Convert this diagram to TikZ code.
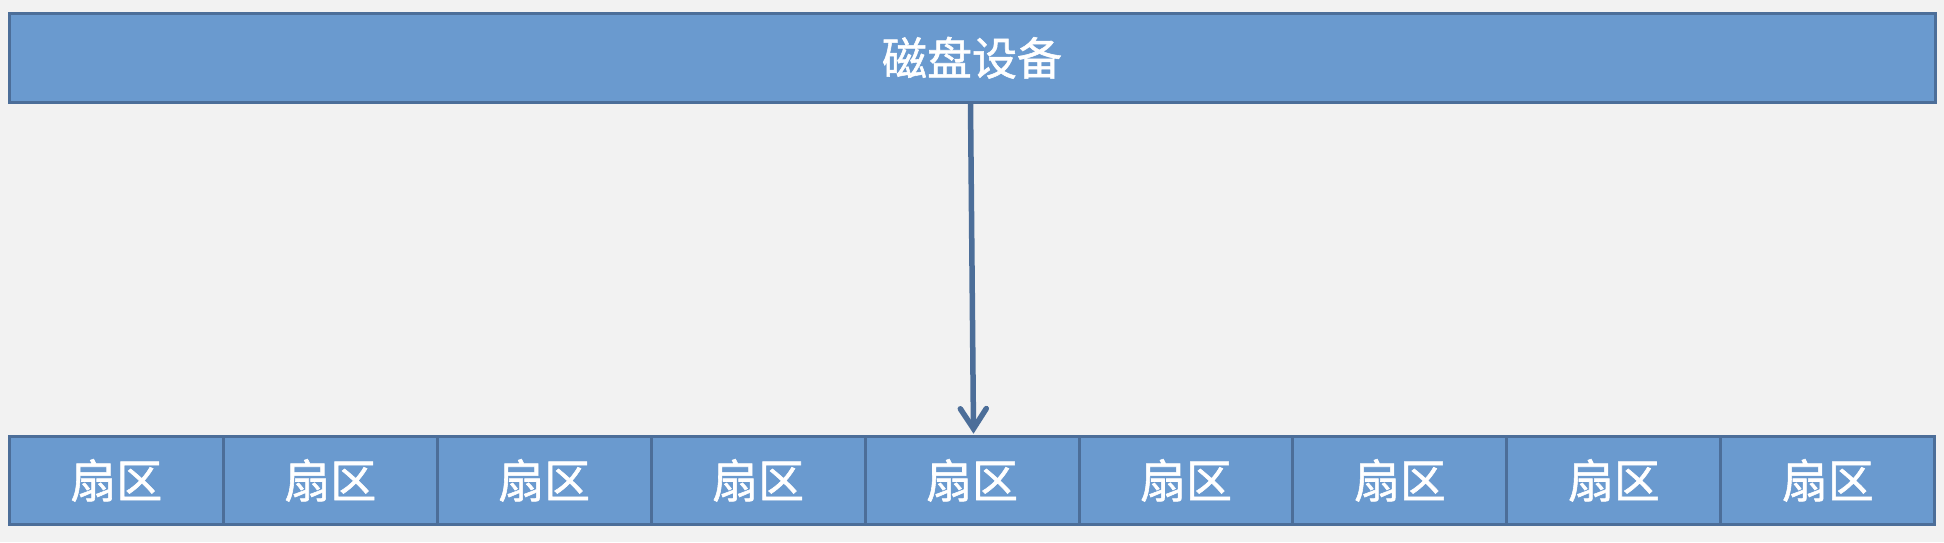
\documentclass[tikz,border=0pt]{standalone}
\usepackage{fontspec}
\newfontfamily\cjk[FakeBold=1.2]{Noto Sans CJK SC}
\usetikzlibrary{arrows.meta}
\definecolor{bg}{RGB}{242,242,242}
\definecolor{boxfill}{RGB}{106,154,207}
\definecolor{boxline}{RGB}{76,110,153}
\begin{document}
\begin{tikzpicture}[x=1pt,y=-1pt,
  box/.style={draw=boxline,fill=boxfill,line width=3pt,inner sep=0pt,anchor=north west,text=white,font=\cjk\fontsize{45}{50}\selectfont},
  conn/.style={draw=boxline,line width=5.5pt,-{Straight Barb[length=20pt,width=26pt,line cap=round]}}]
\fill[bg] (0,0) rectangle (1944,542);
\useasboundingbox (0,0) rectangle (1944,542);
\node[box,minimum width=1926pt,minimum height=88.5pt] (disk) at (7.5,12) {磁盘设备};
\foreach \i in {1,...,9}
  \node[box,minimum width=213.94pt,minimum height=88.3pt,font=\cjk\fontsize{46}{50}\selectfont] (s\i) at ({7.8+(\i-1)*213.94},434.7) {扇区};
\draw[conn] ([xshift=-1.5pt]disk.south) -- ([xshift=1.5pt,yshift=1pt]s5.north);
\end{tikzpicture}
\end{document}
